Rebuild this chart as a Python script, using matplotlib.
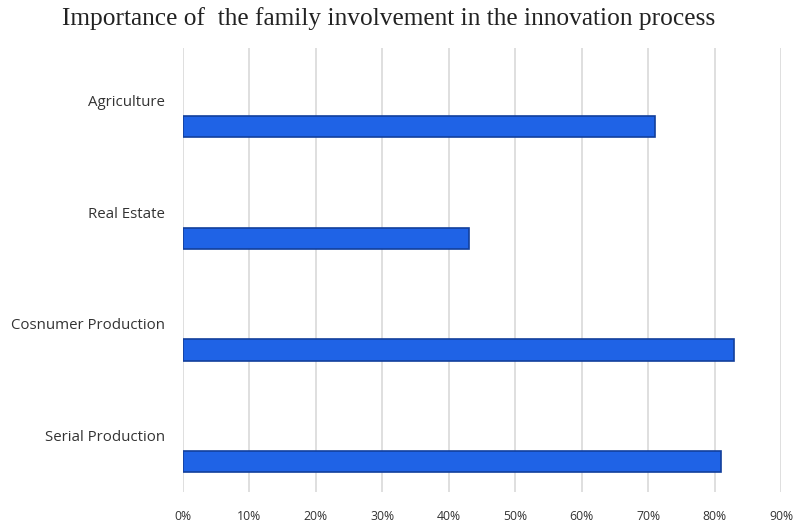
import numpy as np
import matplotlib.pyplot as plt

categories = ["Agriculture", "Real Estate", "Cosnumer Production", "Serial Production"]
values = [0.71, 0.43, 0.83, 0.81]
xticks = [0, 0.1, 0.2, 0.3, 0.4, 0.5, 0.6, 0.7, 0.8, 0.9]
xtick_labels = ["0%", "10%", "20%", "30%", "40%", "50%", "60%", "70%", "80%", "90%"]

fig = plt.figure(figsize=(7.96, 5.25), dpi=100)
ax = fig.add_axes([183/796, 33/525, (781-183)/796, (492-48)/525])

y = np.arange(len(categories))[::-1]
ax.barh(y, values, height=0.19, color="#1f63e6", edgecolor="#123f9c", linewidth=1.2, zorder=3)

for yi, name in zip(y, categories):
    ax.text(-0.027, yi + 0.215, name, ha="right", va="center", fontsize=10.8,
            family="Open Sans", color="#333333")

ax.set_xlim(0, 0.9)
ax.set_ylim(-0.27, 3.70)
ax.set_xticks(xticks)
ax.set_xticklabels(xtick_labels, family="Open Sans", fontsize=8.8, color="#333333")
ax.set_yticks([])
ax.tick_params(axis="x", length=0, pad=13)
ax.grid(axis="x", color="#dcdcdc", linewidth=1.3, zorder=0)
for s in ax.spines.values():
    s.set_visible(False)

fig.text(389/796, 1 - 19/525, "Importance of  the family involvement in the innovation process",
         ha="center", va="center", fontsize=18.3, family="Liberation Serif", color="#222222")

fig.savefig("out.png", dpi=100)
